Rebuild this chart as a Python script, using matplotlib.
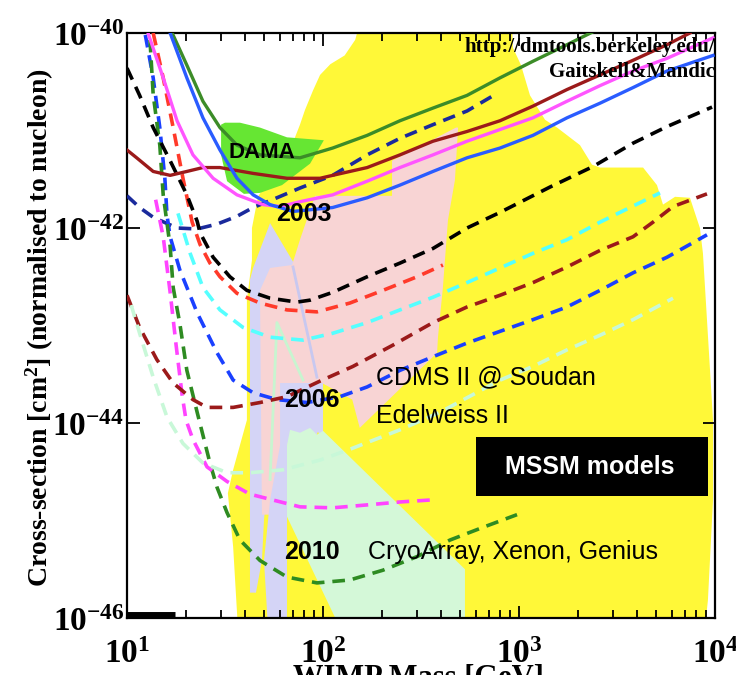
import matplotlib
matplotlib.use("Agg")
import matplotlib.pyplot as plt
import numpy as np
from matplotlib.patches import Polygon, Rectangle
from matplotlib.ticker import FixedLocator, LogLocator, NullLocator, FuncFormatter

plt.rcParams["mathtext.fontset"] = "custom"
plt.rcParams["mathtext.rm"] = "Liberation Serif:bold"
plt.rcParams["mathtext.bf"] = "Liberation Serif:bold"
plt.rcParams["mathtext.it"] = "Liberation Serif:bold:italic"

SERIF = "Liberation Serif"
SANS = "Liberation Sans"

# masses in GeV, cross-sections given as log10(sigma / cm^2)

# --- solid limit curves (2003) ---
green_m = [16.5, 17.0, 20.2, 24.4, 29.8, 36.4, 47.7, 76.3, 112, 168, 247, 364, 543, 800, 1178, 1757, 2600]
green_s = [-39.9, -40.00, -40.33, -40.70, -40.97, -41.15, -41.25, -41.28, -41.18, -41.05, -40.90, -40.77,
           -40.64, -40.46, -40.29, -40.12, -39.95]

blue_m = [16.3, 16.6, 20.2, 24.4, 29.8, 36.4, 44.0, 53.7, 70.3, 112, 168, 247, 364, 543, 800, 1178,
          1757, 2590, 3817, 5689, 9770]
blue_s = [-39.95, -40.00, -40.46, -40.87, -41.20, -41.49, -41.66, -41.76, -41.83, -41.79, -41.69, -41.56,
          -41.42, -41.28, -41.18, -41.05, -40.87, -40.72, -40.56, -40.39, -40.23]

magenta_m = [12.6, 12.8, 15.3, 18.0, 21.7, 27.5, 36.4, 49.4, 60.4, 76.3, 112, 168, 247, 364, 543, 800,
             1178, 1757, 2590, 3817, 5689, 9770]
magenta_s = [-39.95, -40.00, -40.46, -40.90, -41.25, -41.49, -41.66, -41.76, -41.78, -41.73, -41.66, -41.52,
             -41.38, -41.25, -41.11, -40.99, -40.87, -40.70, -40.54, -40.39, -40.26, -40.05]

darkred_m = [10, 11.2, 13.6, 16.6, 20.2, 24.4, 29.8, 44.0, 65.5, 96.6, 112, 168, 247, 364, 543, 800,
             1178, 1757, 2590, 3817, 5689, 7450]
darkred_s = [-41.20, -41.28, -41.42, -41.46, -41.42, -41.38, -41.38, -41.44, -41.49, -41.49, -41.46, -41.38,
             -41.25, -41.11, -41.01, -40.90, -40.75, -40.58, -40.43, -40.28, -40.12, -40.00]

# --- dashed projections ---
navy_m = [10, 11.6, 13.6, 18.0, 22.8, 28.8, 36.4, 44.0, 58.2, 76.3, 112, 168, 247, 364, 543, 772]
navy_s = [-41.67, -41.79, -41.89, -42.00, -42.01, -41.96, -41.88, -41.79, -41.69, -41.59, -41.46, -41.25,
          -41.08, -40.94, -40.80, -40.62]

bdash_m = [12.4, 13.6, 14.7, 15.6, 16.0, 16.6, 18.6, 22.8, 28.8, 34.8, 44.0, 58.2, 82.8, 122, 168, 247,
           364, 543, 800, 1178, 1757, 2590, 3817, 5689, 9100]
bdash_s = [-40.02, -40.46, -40.97, -41.49, -41.87, -42.09, -42.43, -42.87, -43.28, -43.56, -43.69, -43.76,
           -43.79, -43.73, -43.63, -43.46, -43.32, -43.18, -43.06, -42.94, -42.81, -42.64, -42.46, -42.30,
           -42.07]

gdash_m = [13.1, 13.6, 14.7, 15.3, 16.6, 17.2, 18.6, 20.2, 22.8, 26.5, 28.8, 32.4, 37.7, 47.7, 65.5,
           93.1, 137, 202, 302, 445, 655, 977]
gdash_s = [-40.07, -40.63, -41.15, -41.66, -42.19, -42.61, -42.98, -43.46, -43.89, -44.41, -44.66, -44.92,
           -45.20, -45.41, -45.58, -45.64, -45.61, -45.51, -45.37, -45.20, -45.07, -44.94]

mdash_m = [14.0, 15.3, 16.6, 17.8, 19.1, 20.0, 21.7, 25.6, 32.4, 42.4, 55.6, 76.3, 112, 168, 247, 352]
mdash_s = [-41.71, -42.09, -42.66, -43.20, -43.71, -43.97, -44.17, -44.45, -44.60, -44.73, -44.79, -44.86,
           -44.87, -44.84, -44.81, -44.79]

rdash_m = [13.6, 15.3, 17.2, 19.3, 21.5, 23.6, 26.5, 29.8, 36.4, 47.7, 65.5, 93.1, 137, 202, 302, 409]
rdash_s = [-40.00, -40.46, -40.97, -41.49, -41.94, -42.17, -42.36, -42.50, -42.67, -42.77, -42.84, -42.86,
           -42.77, -42.64, -42.50, -42.38]

kdash_m = [10, 11.6, 13.6, 16.6, 20.2, 22.8, 23.6, 27.5, 33.5, 40.9, 53.7, 73.6, 85.9, 112, 168, 247,
           364, 543, 800, 1439, 2385, 3817, 5689, 9660]
kdash_s = [-40.36, -40.64, -40.97, -41.31, -41.66, -41.93, -42.05, -42.30, -42.50, -42.64, -42.72, -42.76,
           -42.74, -42.66, -42.50, -42.36, -42.21, -42.00, -41.84, -41.58, -41.37, -41.13, -40.96, -40.76]

cdash_m = [18.2, 21.0, 24.4, 29.8, 39.1, 53.7, 79.1, 112, 168, 247, 364, 543, 800, 1178, 1757, 2590, 5240]
cdash_s = [-41.85, -42.26, -42.61, -42.84, -43.02, -43.12, -43.15, -43.08, -42.97, -42.84, -42.71, -42.56,
           -42.41, -42.26, -42.12, -41.94, -41.64]

drdash_m = [10, 11.6, 14.2, 17.2, 21.7, 25.6, 34.8, 47.7, 65.5, 96.6, 142, 228, 364, 543, 800, 1178,
            1757, 2590, 3817, 4827, 6106, 9100]
drdash_s = [-42.69, -43.02, -43.35, -43.59, -43.76, -43.84, -43.84, -43.79, -43.73, -43.57, -43.42, -43.20,
            -42.97, -42.81, -42.69, -42.56, -42.40, -42.23, -42.09, -41.94, -41.78, -41.65]

mint_m = [10.5, 11.6, 13.6, 16.0, 19.3, 24.4, 32.4, 42.4, 62.5, 96.6, 141, 247, 395, 800, 1178, 1757,
          2590, 3817, 6106]
mint_s = [-42.79, -43.08, -43.53, -43.94, -44.21, -44.41, -44.51, -44.51, -44.48, -44.38, -44.26, -44.07,
          -43.89, -43.56, -43.42, -43.25, -43.10, -42.94, -42.72]

# faint lines inside the shaded models
mint_solid_m = [53.7, 58.2, 79.1]
mint_solid_s = [-44.58, -42.97, -43.56]
lav_line_m = [70.3, 93.1]
lav_line_s = [-42.40, -43.53]

# --- shaded regions ---
mssm_m = [36.8, 34.8, 32.7, 34.8, 40.9, 40.9, 43.4, 43.4, 46.6, 50.6, 67.9, 76.3, 80.9, 88.9, 96.6, 109,
          129, 146, 154, 921, 931, 1024, 1138, 1358, 1564, 2047, 2357, 2590, 4296, 5058, 5429, 6255,
          7450, 8375, 8680, 9100, 9770, 9770, 9200, 8890]
mssm_s = [-46.1, -45.27, -44.72, -44.48, -43.97, -42.74, -42.33, -42.00, -41.68, -41.56, -41.20, -40.94,
          -40.79, -40.59, -40.43, -40.32, -40.23, -40.07, -39.9, -39.9, -40.15, -40.33, -40.64, -40.89,
          -40.97, -41.15, -41.35, -41.38, -41.38, -41.56, -41.76, -41.68, -41.69, -42.00, -42.26, -42.94,
          -43.97, -44.79, -45.82, -46.1]

pink_m = [48.8, 47.7, 53.7, 69.5, 76.3, 91.0, 225, 225, 477, 489, 471, 434, 409, 386, 382, 154, 141,
          98.8, 76.3, 67.9, 64.0]
pink_s = [-44.94, -42.64, -42.41, -42.38, -42.12, -41.67, -41.67, -41.31, -40.97, -40.97, -41.51, -41.92,
          -42.61, -43.12, -43.28, -44.05, -43.76, -43.59, -43.76, -44.07, -44.94]

lavA_m = [53.7, 72.0, 66.2, 50.0, 48.8, 45.5, 42.4, 42.4, 42.4, 44.0]
lavA_s = [-41.95, -42.38, -42.74, -44.99, -45.41, -45.74, -45.74, -44.48, -42.53, -42.41]

lavB_m = [60.4, 100, 100, 94.2, 87.9, 80.9, 74.5, 67.9, 65.5, 65.5, 52.4, 50.0, 53.7, 60.4]
lavB_s = [-43.59, -43.59, -44.17, -44.09, -44.23, -44.11, -44.23, -44.14, -44.23, -46.1, -46.1, -45.41,
          -44.79, -44.23]

lgreen_m = [65.5, 67.9, 76.3, 85.9, 93.1, 100, 530, 530, 122, 65.5]
lgreen_s = [-44.23, -44.07, -44.10, -44.05, -44.12, -44.08, -45.50, -46.1, -46.1, -44.96]

dama_m = [30.2, 31.6, 37.7, 47.7, 65.5, 101, 85.9, 61.8, 47.7, 39.5, 32.4, 30.2]
dama_s = [-40.94, -40.92, -40.92, -40.97, -41.07, -41.10, -41.34, -41.56, -41.64, -41.65, -41.52, -41.25]

# black bar at the lower left corner
bar_m = [10, 17.6]
bar_s = [-45.97, -45.97]


def pts(m, s):
    return np.column_stack([m, 10.0 ** np.array(s)])


fig = plt.figure(figsize=(7.36, 6.75), dpi=100)
ax = fig.add_axes([127 / 736, 1 - 618 / 675, 588 / 736, 585 / 675])
ax.set_xscale("log")
ax.set_yscale("log")
ax.set_xlim(10, 1e4)
ax.set_ylim(1e-46, 1e-40)

# regions
ax.add_patch(Polygon(pts(mssm_m, mssm_s), closed=True, fc="#fff838", ec="none", zorder=1))
ax.add_patch(Polygon(pts(lavA_m, lavA_s), closed=True, fc="#d4d4f6", ec="none", zorder=1.2))
ax.add_patch(Polygon(pts(pink_m, pink_s), closed=True, fc="#f8d4d4", ec="none", zorder=1.3))
ax.add_patch(Polygon(pts(lavB_m, lavB_s), closed=True, fc="#d4d4f6", ec="none", zorder=1.4))
ax.add_patch(Polygon(pts(lgreen_m, lgreen_s), closed=True, fc="#d4f8d8", ec="none", zorder=1.5))
ax.add_patch(Polygon(pts(dama_m, dama_s), closed=True, fc="#66e633", ec="none", zorder=1.6))

ax.plot(mint_solid_m, 10.0 ** np.array(mint_solid_s), color="#c8f5d0", lw=2, zorder=1.7)
ax.plot(lav_line_m, 10.0 ** np.array(lav_line_s), color="#c8c8f0", lw=2, zorder=1.7)

# dashed projections
dash = (0, (3.5, 2.2))
dashed = [
    (navy_m, navy_s, "#1a2a9c"),
    (bdash_m, bdash_s, "#1a40ff"),
    (gdash_m, gdash_s, "#2e8b22"),
    (mdash_m, mdash_s, "#ff44ff"),
    (rdash_m, rdash_s, "#ff3a2a"),
    (kdash_m, kdash_s, "black"),
    (cdash_m, cdash_s, "#55ffff"),
    (drdash_m, drdash_s, "#9b1a1a"),
    (mint_m, mint_s, "#c8f8d8"),
]
for m, s, c in dashed:
    ax.plot(m, 10.0 ** np.array(s), color=c, lw=2.6, ls=dash, zorder=3)

# solid limits
solid = [
    (green_m, green_s, "#3c8c28"),
    (darkred_m, darkred_s, "#9b1a1a"),
    (magenta_m, magenta_s, "#ff55ff"),
    (blue_m, blue_s, "#2a5cff"),
]
for m, s, c in solid:
    ax.plot(m, 10.0 ** np.array(s), color=c, lw=2.4, zorder=4)

ax.plot(bar_m, 10.0 ** np.array(bar_s), color="black", lw=5, solid_capstyle="butt", zorder=4)

# labels inside the plot
ax.text(48.8, 10 ** -41.23, "DAMA", family=SANS, weight="bold", fontsize=16, ha="center", va="center", zorder=6)
for m, s, t in [(80, -41.86, "2003"), (87.9, -43.76, "2006"), (87.9, -45.32, "2010")]:
    ax.text(m, 10 ** s, t, family=SANS, weight="bold", fontsize=18, ha="center", va="center", zorder=6)
ax.text(186, 10 ** -43.53, "CDMS II @ Soudan", family=SANS, fontsize=18, ha="left", va="center", zorder=6)
ax.text(186, 10 ** -43.93, "Edelweiss II", family=SANS, fontsize=18, ha="left", va="center", zorder=6)
ax.text(170, 10 ** -45.32, "CryoArray, Xenon, Genius", family=SANS, fontsize=18, ha="left", va="center", zorder=6)

ax.add_patch(Rectangle((604, 10 ** -44.75), 9200 - 604, 10 ** -44.14 - 10 ** -44.75, fc="black", ec="none", zorder=5))
ax.text(2300, 10 ** -44.45, "MSSM models", family=SANS, weight="bold", fontsize=18, color="white",
        ha="center", va="center", zorder=6)

ax.text(1e4, 10 ** -40.14, "http://dmtools.berkeley.edu/", family=SERIF, weight="bold", fontsize=15,
        ha="right", va="center", zorder=6, clip_on=True)
ax.text(1e4, 10 ** -40.40, "Gaitskell&Mandic", family=SERIF, weight="bold", fontsize=15,
        ha="right", va="center", zorder=6, clip_on=True)

# axes styling
ax.xaxis.set_major_locator(FixedLocator([10, 100, 1000, 10000]))
ax.xaxis.set_minor_locator(LogLocator(base=10, subs=np.arange(2, 10)))
ax.yaxis.set_major_locator(FixedLocator([1e-46, 1e-44, 1e-42, 1e-40]))
ax.yaxis.set_minor_locator(NullLocator())
fmt = FuncFormatter(lambda v, p: r"$10^{%d}$" % int(round(np.log10(v))))
ax.xaxis.set_major_formatter(fmt)
ax.yaxis.set_major_formatter(fmt)
ax.tick_params(which="both", direction="in", top=True, right=True, width=1.3)
ax.tick_params(which="major", length=9, labelsize=24)
ax.tick_params(which="minor", length=6)
ax.tick_params(axis="x", which="major", pad=14)
ax.tick_params(axis="y", which="major", pad=2)
for sp in ax.spines.values():
    sp.set_linewidth(1.6)

fig.text(0.054, 0.514, "Cross-section [cm$^{2}$] (normalised to nucleon)", family=SERIF, weight="bold",
         fontsize=20, rotation=90, ha="center", va="center")
fig.text(0.568, 1 - 664 / 675, "WIMP Mass [GeV]", family=SERIF, weight="bold", fontsize=22,
         ha="center", va="top")

fig.savefig("out.png", dpi=100)
